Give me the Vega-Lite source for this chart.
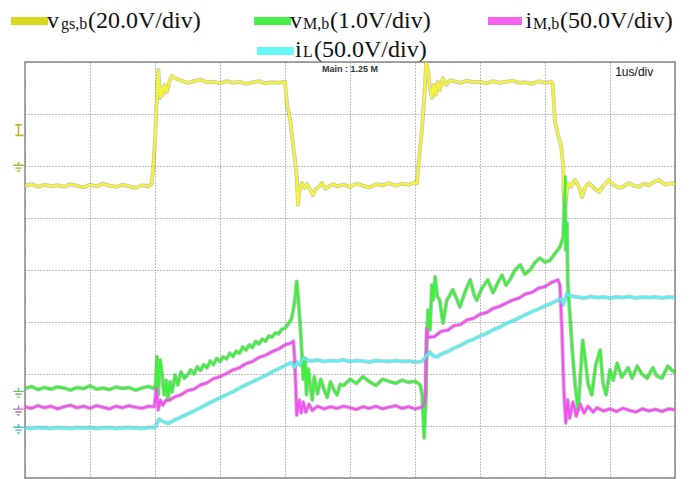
{
  "$schema": "https://vega.github.io/schema/vega-lite/v6.json",
  "width": 650,
  "height": 416,
  "autosize": "none",
  "padding": {"left": 25, "top": 62, "right": 17, "bottom": 1},
  "background": "white",
  "config": {
    "view": {"stroke": "#8a8a8a", "strokeWidth": 1.5},
    "axis": {"grid": true, "gridColor": "#7f7f7f", "gridOpacity": 1, "gridDash": [1, 2], "gridWidth": 1, "labels": false, "ticks": false, "domain": false, "title": null}
  },
  "datasets": {
    "tr": [
      {"s":"vgs","t":0,"v":5.62},{"s":"vgs","t":0.1,"v":5.65},{"s":"vgs","t":0.2,"v":5.6},{"s":"vgs","t":0.3,"v":5.64},{"s":"vgs","t":0.4,"v":5.61},{"s":"vgs","t":0.5,"v":5.63},{"s":"vgs","t":0.6,"v":5.6},{"s":"vgs","t":0.7,"v":5.65},{"s":"vgs","t":0.8,"v":5.62},{"s":"vgs","t":0.9,"v":5.59},{"s":"vgs","t":1.0,"v":5.64},{"s":"vgs","t":1.1,"v":5.61},{"s":"vgs","t":1.2,"v":5.66},{"s":"vgs","t":1.3,"v":5.62},{"s":"vgs","t":1.4,"v":5.6},{"s":"vgs","t":1.5,"v":5.64},{"s":"vgs","t":1.6,"v":5.61},{"s":"vgs","t":1.7,"v":5.58},{"s":"vgs","t":1.8,"v":5.63},{"s":"vgs","t":1.9,"v":5.61},{"s":"vgs","t":1.95,"v":5.66},{"s":"vgs","t":1.97,"v":5.92},{"s":"vgs","t":2.0,"v":6.5},{"s":"vgs","t":2.03,"v":7.37},{"s":"vgs","t":2.05,"v":7.85},{"s":"vgs","t":2.06,"v":7.69},{"s":"vgs","t":2.08,"v":7.31},{"s":"vgs","t":2.11,"v":7.5},{"s":"vgs","t":2.12,"v":7.37},{"s":"vgs","t":2.15,"v":7.56},{"s":"vgs","t":2.18,"v":7.42},{"s":"vgs","t":2.23,"v":7.65},{"s":"vgs","t":2.26,"v":7.73},{"s":"vgs","t":2.31,"v":7.69},{"s":"vgs","t":2.4,"v":7.64},{"s":"vgs","t":2.5,"v":7.6},{"s":"vgs","t":2.6,"v":7.63},{"s":"vgs","t":2.7,"v":7.66},{"s":"vgs","t":2.8,"v":7.61},{"s":"vgs","t":2.9,"v":7.62},{"s":"vgs","t":3.0,"v":7.59},{"s":"vgs","t":3.1,"v":7.63},{"s":"vgs","t":3.2,"v":7.6},{"s":"vgs","t":3.3,"v":7.62},{"s":"vgs","t":3.4,"v":7.58},{"s":"vgs","t":3.5,"v":7.61},{"s":"vgs","t":3.6,"v":7.63},{"s":"vgs","t":3.7,"v":7.59},{"s":"vgs","t":3.8,"v":7.61},{"s":"vgs","t":3.9,"v":7.6},{"s":"vgs","t":4.0,"v":7.62},{"s":"vgs","t":4.03,"v":7.2},{"s":"vgs","t":4.08,"v":6.88},{"s":"vgs","t":4.12,"v":6.44},{"s":"vgs","t":4.15,"v":6.15},{"s":"vgs","t":4.18,"v":5.79},{"s":"vgs","t":4.2,"v":5.25},{"s":"vgs","t":4.22,"v":5.5},{"s":"vgs","t":4.26,"v":5.67},{"s":"vgs","t":4.3,"v":5.58},{"s":"vgs","t":4.34,"v":5.65},{"s":"vgs","t":4.38,"v":5.56},{"s":"vgs","t":4.43,"v":5.44},{"s":"vgs","t":4.47,"v":5.55},{"s":"vgs","t":4.52,"v":5.6},{"s":"vgs","t":4.57,"v":5.67},{"s":"vgs","t":4.62,"v":5.56},{"s":"vgs","t":4.69,"v":5.62},{"s":"vgs","t":4.75,"v":5.65},{"s":"vgs","t":4.8,"v":5.61},{"s":"vgs","t":4.9,"v":5.64},{"s":"vgs","t":5.0,"v":5.6},{"s":"vgs","t":5.1,"v":5.66},{"s":"vgs","t":5.2,"v":5.62},{"s":"vgs","t":5.3,"v":5.59},{"s":"vgs","t":5.4,"v":5.65},{"s":"vgs","t":5.5,"v":5.63},{"s":"vgs","t":5.6,"v":5.67},{"s":"vgs","t":5.7,"v":5.62},{"s":"vgs","t":5.8,"v":5.66},{"s":"vgs","t":5.9,"v":5.64},{"s":"vgs","t":6.0,"v":5.68},{"s":"vgs","t":6.03,"v":5.67},{"s":"vgs","t":6.06,"v":6.12},{"s":"vgs","t":6.11,"v":6.75},{"s":"vgs","t":6.15,"v":7.45},{"s":"vgs","t":6.17,"v":7.98},{"s":"vgs","t":6.2,"v":7.85},{"s":"vgs","t":6.23,"v":7.5},{"s":"vgs","t":6.26,"v":7.31},{"s":"vgs","t":6.29,"v":7.56},{"s":"vgs","t":6.32,"v":7.37},{"s":"vgs","t":6.35,"v":7.62},{"s":"vgs","t":6.38,"v":7.46},{"s":"vgs","t":6.43,"v":7.69},{"s":"vgs","t":6.48,"v":7.56},{"s":"vgs","t":6.54,"v":7.65},{"s":"vgs","t":6.6,"v":7.63},{"s":"vgs","t":6.7,"v":7.6},{"s":"vgs","t":6.8,"v":7.64},{"s":"vgs","t":6.9,"v":7.61},{"s":"vgs","t":7.0,"v":7.62},{"s":"vgs","t":7.1,"v":7.59},{"s":"vgs","t":7.2,"v":7.63},{"s":"vgs","t":7.3,"v":7.6},{"s":"vgs","t":7.4,"v":7.62},{"s":"vgs","t":7.5,"v":7.64},{"s":"vgs","t":7.6,"v":7.6},{"s":"vgs","t":7.7,"v":7.61},{"s":"vgs","t":7.8,"v":7.58},{"s":"vgs","t":7.9,"v":7.63},{"s":"vgs","t":8.0,"v":7.6},{"s":"vgs","t":8.1,"v":7.62},{"s":"vgs","t":8.12,"v":7.58},{"s":"vgs","t":8.15,"v":6.88},{"s":"vgs","t":8.2,"v":6.6},{"s":"vgs","t":8.25,"v":6.37},{"s":"vgs","t":8.28,"v":5.98},{"s":"vgs","t":8.29,"v":5.38},{"s":"vgs","t":8.31,"v":5.25},{"s":"vgs","t":8.35,"v":5.67},{"s":"vgs","t":8.4,"v":5.6},{"s":"vgs","t":8.46,"v":5.73},{"s":"vgs","t":8.52,"v":5.6},{"s":"vgs","t":8.57,"v":5.4},{"s":"vgs","t":8.62,"v":5.6},{"s":"vgs","t":8.68,"v":5.67},{"s":"vgs","t":8.75,"v":5.58},{"s":"vgs","t":8.83,"v":5.5},{"s":"vgs","t":8.9,"v":5.62},{"s":"vgs","t":8.98,"v":5.73},{"s":"vgs","t":9.06,"v":5.63},{"s":"vgs","t":9.14,"v":5.58},{"s":"vgs","t":9.2,"v":5.6},{"s":"vgs","t":9.29,"v":5.67},{"s":"vgs","t":9.37,"v":5.62},{"s":"vgs","t":9.45,"v":5.6},{"s":"vgs","t":9.52,"v":5.66},{"s":"vgs","t":9.6,"v":5.63},{"s":"vgs","t":9.68,"v":5.7},{"s":"vgs","t":9.75,"v":5.73},{"s":"vgs","t":9.85,"v":5.64},{"s":"vgs","t":9.95,"v":5.67},{"s":"vgs","t":10,"v":5.65},

      {"s":"vM","t":0,"v":1.72},{"s":"vM","t":0.1,"v":1.76},{"s":"vM","t":0.2,"v":1.7},{"s":"vM","t":0.3,"v":1.74},{"s":"vM","t":0.4,"v":1.71},{"s":"vM","t":0.5,"v":1.75},{"s":"vM","t":0.6,"v":1.73},{"s":"vM","t":0.7,"v":1.69},{"s":"vM","t":0.8,"v":1.74},{"s":"vM","t":0.9,"v":1.72},{"s":"vM","t":1.0,"v":1.77},{"s":"vM","t":1.1,"v":1.71},{"s":"vM","t":1.2,"v":1.73},{"s":"vM","t":1.3,"v":1.7},{"s":"vM","t":1.4,"v":1.75},{"s":"vM","t":1.5,"v":1.72},{"s":"vM","t":1.6,"v":1.74},{"s":"vM","t":1.7,"v":1.69},{"s":"vM","t":1.8,"v":1.73},{"s":"vM","t":1.9,"v":1.76},{"s":"vM","t":1.98,"v":1.72},{"s":"vM","t":2.01,"v":1.8},{"s":"vM","t":2.03,"v":2.33},{"s":"vM","t":2.05,"v":1.6},{"s":"vM","t":2.08,"v":2.27},{"s":"vM","t":2.11,"v":1.98},{"s":"vM","t":2.14,"v":1.6},{"s":"vM","t":2.17,"v":1.88},{"s":"vM","t":2.2,"v":1.5},{"s":"vM","t":2.23,"v":1.85},{"s":"vM","t":2.26,"v":1.65},{"s":"vM","t":2.31,"v":1.98},{"s":"vM","t":2.35,"v":1.79},{"s":"vM","t":2.4,"v":2.04},{"s":"vM","t":2.45,"v":1.92},{"s":"vM","t":2.5,"v":1.98},{"s":"vM","t":2.55,"v":2.08},{"s":"vM","t":2.6,"v":2.0},{"s":"vM","t":2.65,"v":2.14},{"s":"vM","t":2.7,"v":2.07},{"s":"vM","t":2.75,"v":2.18},{"s":"vM","t":2.8,"v":2.12},{"s":"vM","t":2.85,"v":2.25},{"s":"vM","t":2.9,"v":2.18},{"s":"vM","t":2.95,"v":2.3},{"s":"vM","t":3.0,"v":2.24},{"s":"vM","t":3.05,"v":2.33},{"s":"vM","t":3.1,"v":2.29},{"s":"vM","t":3.15,"v":2.4},{"s":"vM","t":3.2,"v":2.34},{"s":"vM","t":3.25,"v":2.44},{"s":"vM","t":3.3,"v":2.4},{"s":"vM","t":3.35,"v":2.52},{"s":"vM","t":3.4,"v":2.46},{"s":"vM","t":3.45,"v":2.56},{"s":"vM","t":3.5,"v":2.51},{"s":"vM","t":3.55,"v":2.63},{"s":"vM","t":3.6,"v":2.58},{"s":"vM","t":3.65,"v":2.67},{"s":"vM","t":3.7,"v":2.63},{"s":"vM","t":3.75,"v":2.73},{"s":"vM","t":3.8,"v":2.71},{"s":"vM","t":3.85,"v":2.79},{"s":"vM","t":3.9,"v":2.77},{"s":"vM","t":3.95,"v":2.86},{"s":"vM","t":4.0,"v":2.88},{"s":"vM","t":4.05,"v":2.96},{"s":"vM","t":4.1,"v":3.06},{"s":"vM","t":4.13,"v":3.25},{"s":"vM","t":4.16,"v":3.5},{"s":"vM","t":4.18,"v":3.78},{"s":"vM","t":4.2,"v":3.5},{"s":"vM","t":4.22,"v":3.2},{"s":"vM","t":4.25,"v":2.6},{"s":"vM","t":4.28,"v":1.9},{"s":"vM","t":4.31,"v":2.3},{"s":"vM","t":4.33,"v":1.6},{"s":"vM","t":4.36,"v":2.1},{"s":"vM","t":4.39,"v":1.75},{"s":"vM","t":4.42,"v":1.5},{"s":"vM","t":4.45,"v":1.95},{"s":"vM","t":4.5,"v":1.62},{"s":"vM","t":4.55,"v":1.9},{"s":"vM","t":4.6,"v":1.7},{"s":"vM","t":4.65,"v":1.55},{"s":"vM","t":4.7,"v":1.85},{"s":"vM","t":4.75,"v":1.7},{"s":"vM","t":4.8,"v":1.6},{"s":"vM","t":4.85,"v":1.8},{"s":"vM","t":4.9,"v":1.78},{"s":"vM","t":5.0,"v":1.9},{"s":"vM","t":5.1,"v":1.82},{"s":"vM","t":5.2,"v":1.95},{"s":"vM","t":5.3,"v":1.85},{"s":"vM","t":5.4,"v":1.78},{"s":"vM","t":5.5,"v":1.9},{"s":"vM","t":5.6,"v":1.86},{"s":"vM","t":5.7,"v":1.82},{"s":"vM","t":5.8,"v":1.88},{"s":"vM","t":5.9,"v":1.84},{"s":"vM","t":6.0,"v":1.86},{"s":"vM","t":6.05,"v":1.82},{"s":"vM","t":6.08,"v":1.79},{"s":"vM","t":6.11,"v":1.6},{"s":"vM","t":6.14,"v":0.77},{"s":"vM","t":6.17,"v":1.6},{"s":"vM","t":6.18,"v":2.65},{"s":"vM","t":6.2,"v":3.23},{"s":"vM","t":6.23,"v":2.85},{"s":"vM","t":6.26,"v":3.71},{"s":"vM","t":6.28,"v":3.42},{"s":"vM","t":6.31,"v":3.87},{"s":"vM","t":6.34,"v":3.5},{"s":"vM","t":6.38,"v":3.42},{"s":"vM","t":6.43,"v":2.98},{"s":"vM","t":6.49,"v":3.42},{"s":"vM","t":6.53,"v":3.5},{"s":"vM","t":6.58,"v":3.62},{"s":"vM","t":6.65,"v":3.42},{"s":"vM","t":6.69,"v":3.29},{"s":"vM","t":6.77,"v":3.58},{"s":"vM","t":6.85,"v":3.81},{"s":"vM","t":6.91,"v":3.52},{"s":"vM","t":6.95,"v":3.42},{"s":"vM","t":7.03,"v":3.65},{"s":"vM","t":7.12,"v":3.81},{"s":"vM","t":7.2,"v":3.56},{"s":"vM","t":7.28,"v":3.77},{"s":"vM","t":7.34,"v":3.9},{"s":"vM","t":7.4,"v":3.71},{"s":"vM","t":7.46,"v":3.81},{"s":"vM","t":7.54,"v":4.0},{"s":"vM","t":7.62,"v":4.1},{"s":"vM","t":7.69,"v":3.92},{"s":"vM","t":7.77,"v":4.0},{"s":"vM","t":7.85,"v":4.15},{"s":"vM","t":7.92,"v":4.23},{"s":"vM","t":8.0,"v":4.15},{"s":"vM","t":8.08,"v":4.19},{"s":"vM","t":8.15,"v":4.31},{"s":"vM","t":8.23,"v":4.44},{"s":"vM","t":8.28,"v":4.63},{"s":"vM","t":8.31,"v":5.79},{"s":"vM","t":8.32,"v":4.38},{"s":"vM","t":8.34,"v":4.9},{"s":"vM","t":8.35,"v":3.75},{"s":"vM","t":8.42,"v":2.46},{"s":"vM","t":8.46,"v":1.83},{"s":"vM","t":8.51,"v":1.31},{"s":"vM","t":8.54,"v":1.88},{"s":"vM","t":8.58,"v":2.65},{"s":"vM","t":8.63,"v":2.17},{"s":"vM","t":8.66,"v":1.83},{"s":"vM","t":8.72,"v":1.6},{"s":"vM","t":8.78,"v":2.17},{"s":"vM","t":8.85,"v":2.46},{"s":"vM","t":8.89,"v":1.83},{"s":"vM","t":8.94,"v":1.6},{"s":"vM","t":9.0,"v":2.08},{"s":"vM","t":9.05,"v":1.88},{"s":"vM","t":9.11,"v":2.21},{"s":"vM","t":9.18,"v":1.94},{"s":"vM","t":9.28,"v":2.12},{"s":"vM","t":9.34,"v":1.92},{"s":"vM","t":9.42,"v":2.15},{"s":"vM","t":9.49,"v":2.0},{"s":"vM","t":9.57,"v":1.92},{"s":"vM","t":9.66,"v":2.12},{"s":"vM","t":9.72,"v":1.96},{"s":"vM","t":9.8,"v":1.92},{"s":"vM","t":9.89,"v":2.15},{"s":"vM","t":10,"v":2.02},

      {"s":"iM","t":0,"v":1.37},{"s":"iM","t":0.1,"v":1.34},{"s":"iM","t":0.2,"v":1.39},{"s":"iM","t":0.3,"v":1.35},{"s":"iM","t":0.4,"v":1.38},{"s":"iM","t":0.5,"v":1.33},{"s":"iM","t":0.6,"v":1.37},{"s":"iM","t":0.7,"v":1.4},{"s":"iM","t":0.8,"v":1.35},{"s":"iM","t":0.9,"v":1.38},{"s":"iM","t":1.0,"v":1.34},{"s":"iM","t":1.1,"v":1.39},{"s":"iM","t":1.2,"v":1.36},{"s":"iM","t":1.3,"v":1.33},{"s":"iM","t":1.4,"v":1.38},{"s":"iM","t":1.5,"v":1.35},{"s":"iM","t":1.6,"v":1.39},{"s":"iM","t":1.7,"v":1.36},{"s":"iM","t":1.8,"v":1.34},{"s":"iM","t":1.9,"v":1.38},{"s":"iM","t":1.99,"v":1.37},{"s":"iM","t":2.02,"v":1.73},{"s":"iM","t":2.05,"v":1.31},{"s":"iM","t":2.08,"v":1.5},{"s":"iM","t":2.12,"v":1.4},{"s":"iM","t":2.17,"v":1.5},{"s":"iM","t":2.23,"v":1.5},{"s":"iM","t":2.3,"v":1.56},{"s":"iM","t":2.4,"v":1.6},{"s":"iM","t":2.5,"v":1.68},{"s":"iM","t":2.6,"v":1.71},{"s":"iM","t":2.7,"v":1.79},{"s":"iM","t":2.8,"v":1.83},{"s":"iM","t":2.9,"v":1.91},{"s":"iM","t":3.0,"v":1.95},{"s":"iM","t":3.1,"v":2.01},{"s":"iM","t":3.2,"v":2.08},{"s":"iM","t":3.3,"v":2.12},{"s":"iM","t":3.4,"v":2.2},{"s":"iM","t":3.5,"v":2.24},{"s":"iM","t":3.6,"v":2.32},{"s":"iM","t":3.7,"v":2.36},{"s":"iM","t":3.8,"v":2.43},{"s":"iM","t":3.9,"v":2.48},{"s":"iM","t":4.0,"v":2.56},{"s":"iM","t":4.1,"v":2.6},{"s":"iM","t":4.13,"v":2.63},{"s":"iM","t":4.15,"v":2.27},{"s":"iM","t":4.17,"v":1.6},{"s":"iM","t":4.18,"v":1.21},{"s":"iM","t":4.22,"v":1.5},{"s":"iM","t":4.25,"v":1.25},{"s":"iM","t":4.28,"v":1.46},{"s":"iM","t":4.32,"v":1.27},{"s":"iM","t":4.37,"v":1.42},{"s":"iM","t":4.42,"v":1.3},{"s":"iM","t":4.5,"v":1.38},{"s":"iM","t":4.6,"v":1.33},{"s":"iM","t":4.7,"v":1.37},{"s":"iM","t":4.8,"v":1.34},{"s":"iM","t":4.9,"v":1.38},{"s":"iM","t":5.0,"v":1.35},{"s":"iM","t":5.1,"v":1.32},{"s":"iM","t":5.2,"v":1.37},{"s":"iM","t":5.3,"v":1.34},{"s":"iM","t":5.4,"v":1.38},{"s":"iM","t":5.5,"v":1.33},{"s":"iM","t":5.6,"v":1.36},{"s":"iM","t":5.7,"v":1.39},{"s":"iM","t":5.8,"v":1.34},{"s":"iM","t":5.9,"v":1.37},{"s":"iM","t":6.0,"v":1.33},{"s":"iM","t":6.1,"v":1.36},{"s":"iM","t":6.14,"v":1.4},{"s":"iM","t":6.16,"v":1.6},{"s":"iM","t":6.18,"v":2.88},{"s":"iM","t":6.2,"v":2.7},{"s":"iM","t":6.23,"v":2.71},{"s":"iM","t":6.3,"v":2.72},{"s":"iM","t":6.4,"v":2.82},{"s":"iM","t":6.5,"v":2.84},{"s":"iM","t":6.6,"v":2.93},{"s":"iM","t":6.7,"v":2.95},{"s":"iM","t":6.8,"v":3.04},{"s":"iM","t":6.9,"v":3.07},{"s":"iM","t":7.0,"v":3.15},{"s":"iM","t":7.1,"v":3.18},{"s":"iM","t":7.2,"v":3.26},{"s":"iM","t":7.3,"v":3.3},{"s":"iM","t":7.4,"v":3.36},{"s":"iM","t":7.5,"v":3.42},{"s":"iM","t":7.6,"v":3.46},{"s":"iM","t":7.7,"v":3.54},{"s":"iM","t":7.8,"v":3.57},{"s":"iM","t":7.9,"v":3.65},{"s":"iM","t":8.0,"v":3.68},{"s":"iM","t":8.1,"v":3.76},{"s":"iM","t":8.2,"v":3.81},{"s":"iM","t":8.23,"v":3.71},{"s":"iM","t":8.26,"v":2.85},{"s":"iM","t":8.29,"v":1.69},{"s":"iM","t":8.32,"v":1.06},{"s":"iM","t":8.35,"v":1.5},{"s":"iM","t":8.38,"v":1.15},{"s":"iM","t":8.43,"v":1.46},{"s":"iM","t":8.48,"v":1.19},{"s":"iM","t":8.54,"v":1.42},{"s":"iM","t":8.6,"v":1.25},{"s":"iM","t":8.66,"v":1.38},{"s":"iM","t":8.74,"v":1.27},{"s":"iM","t":8.8,"v":1.35},{"s":"iM","t":8.9,"v":1.29},{"s":"iM","t":9.0,"v":1.33},{"s":"iM","t":9.1,"v":1.28},{"s":"iM","t":9.2,"v":1.34},{"s":"iM","t":9.3,"v":1.3},{"s":"iM","t":9.4,"v":1.27},{"s":"iM","t":9.5,"v":1.33},{"s":"iM","t":9.6,"v":1.29},{"s":"iM","t":9.7,"v":1.32},{"s":"iM","t":9.8,"v":1.28},{"s":"iM","t":9.9,"v":1.33},{"s":"iM","t":10,"v":1.31},

      {"s":"iL","t":0,"v":0.96},{"s":"iL","t":0.1,"v":0.95},{"s":"iL","t":0.2,"v":0.97},{"s":"iL","t":0.3,"v":0.96},{"s":"iL","t":0.4,"v":0.95},{"s":"iL","t":0.5,"v":0.97},{"s":"iL","t":0.6,"v":0.96},{"s":"iL","t":0.7,"v":0.95},{"s":"iL","t":0.8,"v":0.97},{"s":"iL","t":0.9,"v":0.96},{"s":"iL","t":1.0,"v":0.97},{"s":"iL","t":1.1,"v":0.95},{"s":"iL","t":1.2,"v":0.96},{"s":"iL","t":1.3,"v":0.97},{"s":"iL","t":1.4,"v":0.95},{"s":"iL","t":1.5,"v":0.96},{"s":"iL","t":1.6,"v":0.97},{"s":"iL","t":1.7,"v":0.96},{"s":"iL","t":1.8,"v":0.95},{"s":"iL","t":1.9,"v":0.97},{"s":"iL","t":2.0,"v":0.97},{"s":"iL","t":2.03,"v":1.05},{"s":"iL","t":2.06,"v":1.13},{"s":"iL","t":2.1,"v":1.1},{"s":"iL","t":2.2,"v":1.05},{"s":"iL","t":2.3,"v":1.11},{"s":"iL","t":2.4,"v":1.17},{"s":"iL","t":2.5,"v":1.23},{"s":"iL","t":2.6,"v":1.29},{"s":"iL","t":2.7,"v":1.35},{"s":"iL","t":2.8,"v":1.42},{"s":"iL","t":2.9,"v":1.48},{"s":"iL","t":3.0,"v":1.54},{"s":"iL","t":3.1,"v":1.6},{"s":"iL","t":3.2,"v":1.66},{"s":"iL","t":3.3,"v":1.73},{"s":"iL","t":3.4,"v":1.79},{"s":"iL","t":3.5,"v":1.85},{"s":"iL","t":3.6,"v":1.91},{"s":"iL","t":3.7,"v":1.97},{"s":"iL","t":3.8,"v":2.04},{"s":"iL","t":3.9,"v":2.1},{"s":"iL","t":4.0,"v":2.16},{"s":"iL","t":4.1,"v":2.22},{"s":"iL","t":4.15,"v":2.12},{"s":"iL","t":4.18,"v":2.23},{"s":"iL","t":4.23,"v":2.17},{"s":"iL","t":4.28,"v":2.31},{"s":"iL","t":4.32,"v":2.27},{"s":"iL","t":4.4,"v":2.25},{"s":"iL","t":4.5,"v":2.27},{"s":"iL","t":4.6,"v":2.24},{"s":"iL","t":4.7,"v":2.26},{"s":"iL","t":4.8,"v":2.25},{"s":"iL","t":4.9,"v":2.27},{"s":"iL","t":5.0,"v":2.24},{"s":"iL","t":5.1,"v":2.26},{"s":"iL","t":5.2,"v":2.25},{"s":"iL","t":5.3,"v":2.23},{"s":"iL","t":5.4,"v":2.26},{"s":"iL","t":5.5,"v":2.25},{"s":"iL","t":5.6,"v":2.24},{"s":"iL","t":5.7,"v":2.26},{"s":"iL","t":5.8,"v":2.24},{"s":"iL","t":5.9,"v":2.25},{"s":"iL","t":6.0,"v":2.23},{"s":"iL","t":6.1,"v":2.24},{"s":"iL","t":6.15,"v":2.3},{"s":"iL","t":6.18,"v":2.37},{"s":"iL","t":6.23,"v":2.42},{"s":"iL","t":6.28,"v":2.35},{"s":"iL","t":6.34,"v":2.33},{"s":"iL","t":6.4,"v":2.38},{"s":"iL","t":6.5,"v":2.43},{"s":"iL","t":6.6,"v":2.5},{"s":"iL","t":6.7,"v":2.55},{"s":"iL","t":6.8,"v":2.62},{"s":"iL","t":6.9,"v":2.67},{"s":"iL","t":7.0,"v":2.73},{"s":"iL","t":7.1,"v":2.78},{"s":"iL","t":7.2,"v":2.85},{"s":"iL","t":7.3,"v":2.9},{"s":"iL","t":7.4,"v":2.97},{"s":"iL","t":7.5,"v":3.02},{"s":"iL","t":7.6,"v":3.08},{"s":"iL","t":7.7,"v":3.14},{"s":"iL","t":7.8,"v":3.2},{"s":"iL","t":7.9,"v":3.25},{"s":"iL","t":8.0,"v":3.31},{"s":"iL","t":8.1,"v":3.36},{"s":"iL","t":8.2,"v":3.42},{"s":"iL","t":8.24,"v":3.45},{"s":"iL","t":8.28,"v":3.33},{"s":"iL","t":8.34,"v":3.56},{"s":"iL","t":8.38,"v":3.5},{"s":"iL","t":8.5,"v":3.48},{"s":"iL","t":8.6,"v":3.46},{"s":"iL","t":8.7,"v":3.49},{"s":"iL","t":8.8,"v":3.47},{"s":"iL","t":8.9,"v":3.48},{"s":"iL","t":9.0,"v":3.46},{"s":"iL","t":9.1,"v":3.48},{"s":"iL","t":9.2,"v":3.47},{"s":"iL","t":9.3,"v":3.49},{"s":"iL","t":9.4,"v":3.46},{"s":"iL","t":9.5,"v":3.48},{"s":"iL","t":9.6,"v":3.47},{"s":"iL","t":9.7,"v":3.48},{"s":"iL","t":9.8,"v":3.46},{"s":"iL","t":9.9,"v":3.48},{"s":"iL","t":10,"v":3.47}
    ],
    "sw": [
      {"s":"vgs","t":-0.215,"t2":0.354,"v":8.865,"v2":8.712},
      {"s":"vM","t":3.523,"t2":4.092,"v":8.865,"v2":8.712},
      {"s":"iM","t":7.123,"t2":7.646,"v":8.865,"v2":8.712},
      {"s":"iL","t":3.569,"t2":4.138,"v":8.288,"v2":8.135}
    ],
    "lt": [
      {"k":"m","t":0.338,"v":8.654,"txt":"v"},
      {"k":"s","t":0.554,"v":8.635,"txt":"gs,b"},
      {"k":"m","t":0.969,"v":8.654,"txt":"(20.0V/div)"},
      {"k":"m","t":4.077,"v":8.654,"txt":"v"},
      {"k":"s","t":4.277,"v":8.635,"txt":"M,b"},
      {"k":"m","t":4.692,"v":8.654,"txt":"(1.0V/div)"},
      {"k":"m","t":7.7,"v":8.654,"txt":"i"},
      {"k":"s","t":7.815,"v":8.635,"txt":"M,b"},
      {"k":"m","t":8.231,"v":8.654,"txt":"(50.0V/div)"},
      {"k":"m","t":4.154,"v":8.096,"txt":"i"},
      {"k":"s","t":4.277,"v":8.087,"txt":"L"},
      {"k":"m","t":4.446,"v":8.096,"txt":"(50.0V/div)"}
    ],
    "mk": [
      {"s":"vgs","t":-0.1,"v":5.98},
      {"s":"vM","t":-0.1,"v":1.63},
      {"s":"iM","t":-0.1,"v":1.29},
      {"s":"iL","t":-0.1,"v":0.94}
    ]
  },
  "encoding": {
    "x": {"field": "t", "type": "quantitative", "scale": {"domain": [0, 10], "nice": false, "zero": false}, "axis": {"values": [0,1,2,3,4,5,6,7,8,9,10]}},
    "y": {"field": "v", "type": "quantitative", "scale": {"domain": [0, 8], "nice": false, "zero": false}, "axis": {"values": [0,1,2,3,4,5,6,7,8]}}
  },
  "layer": [
    {
      "data": {"name": "tr"},
      "mark": {"type": "line", "strokeWidth": 4, "opacity": 0.45, "strokeJoin": "round"},
      "encoding": {
        "color": {"field": "s", "type": "nominal", "scale": {"domain": ["vgs","vM","iM","iL"], "range": ["#8c8c5a","#4e8e4e","#a458a4","#5c9e9e"]}, "legend": null}
      }
    },
    {
      "data": {"name": "tr"},
      "mark": {"type": "line", "strokeWidth": 2.2, "strokeJoin": "round"},
      "encoding": {
        "color": {"field": "s", "type": "nominal", "scale": {"domain": ["vgs","vM","iM","iL"], "range": ["#f6f62e","#3cf03c","#f250f0","#55f2f2"]}, "legend": null}
      }
    },
    {
      "data": {"name": "sw"},
      "mark": {"type": "rect"},
      "encoding": {
        "x2": {"field": "t2"},
        "y2": {"field": "v2"},
        "color": {"field": "s", "type": "nominal", "scale": {"domain": ["vgs","vM","iM","iL"], "range": ["#d8d81e","#48ef48","#f560f0","#66f7f7"]}, "legend": null}
      }
    },
    {
      "data": {"name": "lt"},
      "transform": [{"filter": "datum.k === 'm'"}],
      "mark": {"type": "text", "font": "Liberation Serif", "fontSize": 24, "align": "left", "baseline": "alphabetic", "color": "#111111"},
      "encoding": {"text": {"field": "txt"}}
    },
    {
      "data": {"name": "lt"},
      "transform": [{"filter": "datum.k === 's'"}],
      "mark": {"type": "text", "font": "Liberation Serif", "fontSize": 16, "align": "left", "baseline": "alphabetic", "color": "#111111"},
      "encoding": {"text": {"field": "txt"}}
    },
    {
      "data": {"values": [{"t": 5.0, "v": 7.8, "txt": "Main : 1.25 M"}]},
      "mark": {"type": "text", "font": "Liberation Sans", "fontSize": 9, "fontWeight": "bold", "align": "center", "baseline": "alphabetic", "color": "#333333"},
      "encoding": {"text": {"field": "txt"}}
    },
    {
      "data": {"values": [{"t": 9.08, "v": 7.73, "txt": "1us/div"}]},
      "mark": {"type": "text", "font": "Liberation Sans", "fontSize": 12, "align": "left", "baseline": "alphabetic", "color": "#111111"},
      "encoding": {"text": {"field": "txt"}}
    },
    {
      "data": {"name": "mk"},
      "mark": {"type": "point", "shape": "M0,-1V-0.35M-1,-0.35H1M-0.6,0.2H0.6M-0.25,0.75H0.25", "filled": false, "size": 110, "strokeWidth": 1.4, "opacity": 1},
      "encoding": {
        "color": {"field": "s", "type": "nominal", "scale": {"domain": ["vgs","vM","iM","iL"], "range": ["#b0b03a","#66c266","#c066c0","#4cc0c0"]}, "legend": null}
      }
    },
    {
      "data": {"values": [{"t": -0.1, "v": 6.69}]},
      "mark": {"type": "point", "shape": "M-0.6,-1H0.6M0,-1V1M-0.6,1H1", "filled": false, "size": 110, "strokeWidth": 1.6, "color": "#b8b82a", "opacity": 1}
    }
  ],
  "resolve": {"scale": {"color": "independent"}}
}
